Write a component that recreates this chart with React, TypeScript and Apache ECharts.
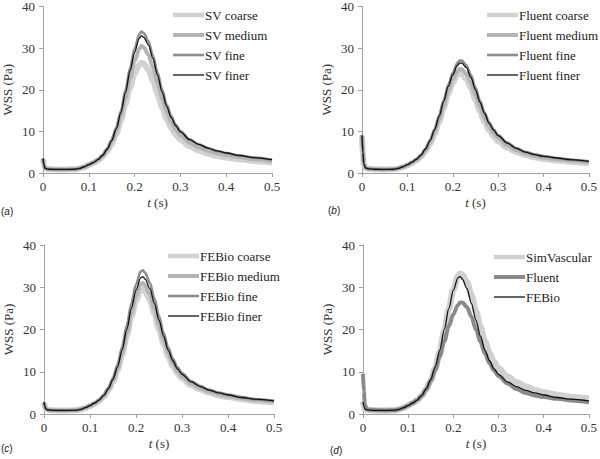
import React, { useEffect, useRef } from "react";
import * as echarts from "echarts";

// time samples (s)
const T = [0, 0.002, 0.004, 0.008, 0.015, 0.03, 0.05, 0.07, 0.08, 0.09, 0.1, 0.11, 0.12, 0.13, 0.14, 0.15, 0.16, 0.17, 0.18, 0.19, 0.2, 0.21, 0.215, 0.22, 0.23, 0.24, 0.25, 0.26, 0.27, 0.28, 0.29, 0.3, 0.32, 0.34, 0.36, 0.38, 0.4, 0.43, 0.46, 0.5];

// (a) SimVascular
const svCoarse = [3.3, 2.0, 1.3, 1.0, 0.9, 0.85, 0.85, 0.9, 1.1, 1.4, 1.9, 2.4, 3.0, 3.9, 5.2, 7.0, 9.4, 12.6, 16.5, 20.5, 23.8, 26.0, 26.5, 26.3, 24.8, 22.2, 19.0, 15.8, 13.0, 10.8, 9.2, 8.0, 6.4, 5.4, 4.6, 4.1, 3.7, 3.3, 2.9, 2.5];
const svMedium = [3.4, 2.0, 1.2, 1.0, 0.9, 0.85, 0.85, 0.9, 1.1, 1.5, 2.0, 2.5, 3.1, 4.1, 5.5, 7.5, 10.2, 13.8, 18.2, 22.8, 26.9, 29.8, 30.5, 30.2, 28.4, 25.4, 21.7, 18.0, 14.8, 12.3, 10.4, 9.1, 7.3, 6.2, 5.3, 4.7, 4.3, 3.8, 3.3, 2.9];
const svFine = [3.5, 2.0, 1.2, 1.0, 0.9, 0.85, 0.85, 0.9, 1.1, 1.5, 2.0, 2.6, 3.3, 4.3, 5.8, 8.0, 10.9, 14.9, 19.9, 25.2, 29.9, 33.3, 34.0, 33.6, 31.7, 28.3, 24.2, 20.1, 16.5, 13.7, 11.6, 10.1, 8.1, 6.9, 6.0, 5.3, 4.8, 4.2, 3.7, 3.2];
const svFiner = [3.5, 2.0, 1.2, 1.0, 0.9, 0.85, 0.85, 0.9, 1.1, 1.5, 2.0, 2.5, 3.2, 4.2, 5.7, 7.8, 10.6, 14.5, 19.3, 24.5, 29.0, 32.3, 33.0, 32.6, 30.8, 27.5, 23.5, 19.5, 16.0, 13.3, 11.3, 9.9, 8.0, 6.9, 6.0, 5.3, 4.8, 4.2, 3.7, 3.2];

// (b) Fluent
const flCoarse = [8.8, 4.8, 2.1, 1.2, 1.0, 0.9, 0.85, 0.9, 1.1, 1.4, 1.8, 2.4, 3.0, 3.9, 5.2, 7.0, 9.4, 12.3, 15.6, 19.0, 21.6, 23.5, 24.0, 23.8, 22.6, 20.4, 17.6, 14.8, 12.3, 10.3, 8.8, 7.6, 6.1, 5.0, 4.3, 3.8, 3.4, 3.0, 2.7, 2.3];
const flMedium = [9.0, 5.0, 2.2, 1.2, 1.0, 0.9, 0.85, 0.9, 1.1, 1.5, 1.9, 2.5, 3.2, 4.1, 5.5, 7.4, 9.9, 12.9, 16.3, 19.8, 22.4, 24.4, 25.0, 24.9, 23.9, 21.7, 18.8, 15.9, 13.3, 11.2, 9.6, 8.4, 6.7, 5.5, 4.7, 4.1, 3.7, 3.3, 3.0, 2.6];
const flFine = [9.2, 5.0, 2.2, 1.2, 1.0, 0.9, 0.85, 0.9, 1.1, 1.5, 2.0, 2.6, 3.3, 4.3, 5.8, 7.9, 10.5, 13.8, 17.5, 21.2, 24.1, 26.4, 27.0, 27.0, 25.9, 23.6, 20.5, 17.4, 14.6, 12.2, 10.5, 9.1, 7.3, 6.0, 5.1, 4.5, 4.1, 3.6, 3.2, 2.8];
const flFiner = [9.0, 5.0, 2.2, 1.2, 1.0, 0.9, 0.85, 0.9, 1.1, 1.5, 2.0, 2.6, 3.3, 4.3, 5.8, 7.8, 10.4, 13.6, 17.2, 20.8, 23.6, 25.8, 26.4, 26.4, 25.3, 23.0, 20.0, 17.0, 14.3, 12.0, 10.3, 9.0, 7.2, 5.9, 5.0, 4.4, 4.0, 3.6, 3.2, 2.8];

// (c) FEBio
const feCoarse = [2.6, 1.7, 1.2, 1.0, 0.9, 0.85, 0.85, 0.9, 1.1, 1.4, 1.9, 2.4, 3.1, 4.1, 5.6, 7.6, 10.4, 14.0, 18.4, 23.0, 26.8, 29.2, 29.5, 29.0, 27.0, 23.7, 20.0, 16.6, 13.6, 11.3, 9.6, 8.4, 6.8, 5.8, 5.0, 4.4, 4.0, 3.5, 3.1, 2.7];
const feMedium = [2.7, 1.7, 1.2, 1.0, 0.9, 0.85, 0.85, 0.9, 1.1, 1.5, 2.0, 2.5, 3.2, 4.3, 5.8, 7.9, 10.8, 14.6, 19.2, 24.0, 28.0, 30.7, 31.0, 30.4, 28.3, 24.9, 21.1, 17.5, 14.4, 12.0, 10.2, 8.9, 7.2, 6.1, 5.3, 4.7, 4.2, 3.7, 3.3, 2.9];
const feFine = [2.9, 1.8, 1.2, 1.0, 0.9, 0.85, 0.85, 0.9, 1.1, 1.5, 2.0, 2.6, 3.4, 4.5, 6.2, 8.5, 11.7, 15.9, 21.0, 26.2, 30.7, 33.7, 34.0, 33.4, 31.1, 27.4, 23.2, 19.2, 15.8, 13.1, 11.1, 9.7, 7.8, 6.6, 5.7, 5.1, 4.6, 4.0, 3.5, 3.1];
const feFiner = [2.8, 1.8, 1.2, 1.0, 0.9, 0.85, 0.85, 0.9, 1.1, 1.5, 2.0, 2.6, 3.3, 4.4, 6.0, 8.2, 11.2, 15.2, 20.0, 25.0, 29.3, 32.2, 32.5, 31.9, 29.7, 26.2, 22.2, 18.4, 15.1, 12.6, 10.7, 9.4, 7.6, 6.5, 5.6, 5.0, 4.5, 3.9, 3.5, 3.1];

// (d) comparison
const cmpSimVascular = [3.0, 1.9, 1.2, 1.0, 0.9, 0.85, 0.85, 0.9, 1.1, 1.5, 2.0, 2.6, 3.3, 4.3, 5.9, 8.0, 10.9, 14.8, 19.7, 24.9, 29.4, 32.6, 33.2, 32.9, 31.2, 28.1, 24.3, 20.5, 17.1, 14.4, 12.3, 10.8, 8.8, 7.5, 6.5, 5.7, 5.1, 4.5, 4.0, 3.6];
const cmpFluent = [9.5, 5.2, 2.3, 1.2, 1.0, 0.9, 0.85, 0.9, 1.1, 1.5, 2.0, 2.6, 3.3, 4.3, 5.8, 7.8, 10.4, 13.6, 17.2, 20.8, 23.6, 25.8, 26.4, 26.4, 25.3, 23.0, 20.0, 17.0, 14.3, 12.0, 10.3, 9.0, 7.2, 5.9, 5.0, 4.4, 4.0, 3.6, 3.2, 2.8];
const cmpFEBio = [2.8, 1.8, 1.2, 1.0, 0.9, 0.85, 0.85, 0.9, 1.1, 1.5, 2.0, 2.6, 3.3, 4.4, 6.0, 8.2, 11.2, 15.2, 20.0, 25.0, 29.3, 32.2, 32.5, 31.9, 29.7, 26.2, 22.2, 18.4, 15.1, 12.6, 10.7, 9.4, 7.6, 6.5, 5.6, 5.0, 4.5, 3.9, 3.5, 3.1];

const xTicks = [0, 0.1, 0.2, 0.3, 0.4, 0.5];
const yTicks = [0, 10, 20, 30, 40];

const panelLetters = ["a", "b", "c", "d"];
const namesA = ["SV coarse", "SV medium", "SV fine", "SV finer"];
const namesB = ["Fluent coarse", "Fluent medium", "Fluent fine", "Fluent finer"];
const namesC = ["FEBio coarse", "FEBio medium", "FEBio fine", "FEBio finer"];
const namesD = ["SimVascular", "Fluent", "FEBio"];

const SERIF = "Liberation Serif";
const SANS = "Liberation Sans";

const styleCoarse = { color: "#d2d2d2", width: 6 };
const styleMedium = { color: "#b4b4b4", width: 4 };
const styleFine = { color: "#8e8e8e", width: 2.6 };
const styleFiner = { color: "#111111", width: 1.3 };
const styleD = [
  { color: "#d0d0d0", width: 6.5 },
  { color: "#8a8a8a", width: 4 },
  { color: "#111111", width: 1.3 },
];

const grids = [
  { left: 42, top: 4, width: 230, height: 169 },
  { left: 362, top: 4, width: 230, height: 169 },
  { left: 44, top: 245, width: 230, height: 169 },
  { left: 363, top: 245, width: 230, height: 169 },
];

const legendPos = [
  { x: 173, y: 15 },
  { x: 487, y: 15 },
  { x: 168, y: 256 },
  { x: 494, y: 257 },
];

const letterPos = [
  { x: 1, y: 211 },
  { x: 328, y: 210 },
  { x: 1, y: 448 },
  { x: 330, y: 450 },
];

export default function App() {
  const ref = useRef<HTMLDivElement>(null);
  useEffect(() => {
    if (!ref.current) return;
    const chart = echarts.init(ref.current, null, { renderer: "svg" });

    const panels = [
      { names: namesA, data: [svCoarse, svMedium, svFine, svFiner], styles: [styleCoarse, styleMedium, styleFine, styleFiner] },
      { names: namesB, data: [flCoarse, flMedium, flFine, flFiner], styles: [styleCoarse, styleMedium, styleFine, styleFiner] },
      { names: namesC, data: [feCoarse, feMedium, feFine, feFiner], styles: [styleCoarse, styleMedium, styleFine, styleFiner] },
      { names: namesD, data: [cmpSimVascular, cmpFluent, cmpFEBio], styles: styleD },
    ];

    const xAxis: any[] = [];
    const yAxis: any[] = [];
    const series: any[] = [];
    const graphic: any[] = [];

    panels.forEach((p, i) => {
      xAxis.push({
        type: "value",
        gridIndex: i,
        min: xTicks[0],
        max: xTicks[xTicks.length - 1],
        interval: 0.1,
        name: "{i|t} (s)",
        nameLocation: "middle",
        nameGap: 23,
        nameTextStyle: {
          fontFamily: SERIF,
          fontSize: 13,
          color: "#333",
          rich: { i: { fontStyle: "italic", fontFamily: SERIF, fontSize: 13, color: "#333" } },
        },
        axisLine: { show: true, lineStyle: { color: "#a0a0a0", width: 1 } },
        axisTick: { show: true, length: 4, lineStyle: { color: "#a0a0a0" } },
        axisLabel: { fontFamily: SERIF, fontSize: 13, color: "#333", margin: 7 },
        splitLine: { show: false },
      });
      yAxis.push({
        type: "value",
        gridIndex: i,
        min: yTicks[0],
        max: yTicks[yTicks.length - 1],
        interval: 10,
        name: "WSS (Pa)",
        nameLocation: "middle",
        nameGap: 29,
        nameTextStyle: { fontFamily: SERIF, fontSize: 13, color: "#333" },
        axisLine: { show: true, lineStyle: { color: "#a0a0a0", width: 1 } },
        axisTick: { show: true, length: 4, lineStyle: { color: "#a0a0a0" } },
        axisLabel: { fontFamily: SERIF, fontSize: 13, color: "#333", margin: 8 },
        splitLine: { show: false },
      });
      p.data.forEach((vals, k) => {
        series.push({
          type: "line",
          name: p.names[k],
          xAxisIndex: i,
          yAxisIndex: i,
          data: T.map((t, j) => [t, vals[j]]),
          showSymbol: false,
          smooth: 0.3,
          smoothMonotone: "x",
          lineStyle: { color: p.styles[k].color, width: p.styles[k].width, cap: "butt", join: "round" },
          itemStyle: { color: p.styles[k].color },
          z: 2 + k,
        });
        const lp = legendPos[i];
        graphic.push({
          type: "line",
          shape: { x1: lp.x, y1: lp.y + k * 20, x2: lp.x + 31, y2: lp.y + k * 20 },
          style: { stroke: p.styles[k].color, lineWidth: Math.min(p.styles[k].width, 4.5) },
        });
        graphic.push({
          type: "text",
          x: lp.x + 32,
          y: lp.y + k * 20,
          style: {
            text: p.names[k],
            fontFamily: SERIF,
            fontSize: 13,
            fill: "#222",
            verticalAlign: "middle",
            align: "left",
          },
        });
      });
      const lt = letterPos[i];
      graphic.push({
        type: "text",
        x: lt.x,
        y: lt.y,
        style: {
          text: "(" + "{i|" + panelLetters[i] + "})",
          rich: { i: { fontStyle: "italic", fontFamily: SANS, fontSize: 10, fill: "#222" } },
          fontFamily: SANS,
          fontSize: 10,
          fill: "#222",
          verticalAlign: "middle",
        },
      });
    });

    chart.setOption({
      animation: false,
      backgroundColor: "#ffffff",
      textStyle: { fontFamily: SERIF },
      grid: grids,
      xAxis,
      yAxis,
      series,
      graphic,
    });
    return () => chart.dispose();
  }, []);
  return <div ref={ref} style={{ position: "fixed", left: 0, top: 0, width: 600, height: 459 }} />;
}
